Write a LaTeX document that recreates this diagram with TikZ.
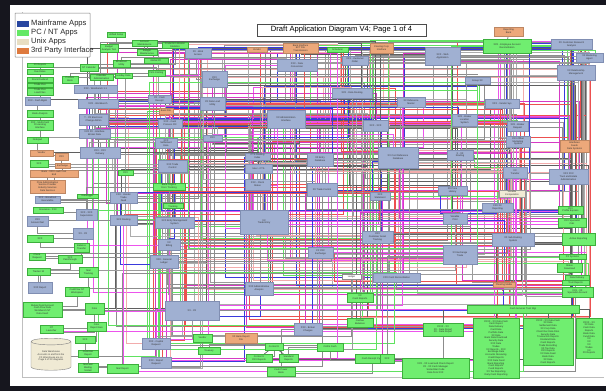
\documentclass[tikz,border=0pt]{standalone}
\usepackage{fontspec}
\setmainfont{Liberation Sans}
\usetikzlibrary{calc,shapes.geometric}
\pgfdeclarelayer{bg}
\pgfdeclarelayer{wires}
\pgfsetlayers{bg,wires,main}
\definecolor{framec}{RGB}{22,22,30}
\definecolor{mfc}{RGB}{160,176,210}
\definecolor{mfd}{RGB}{128,142,178}
\definecolor{pcc}{RGB}{112,238,112}
\definecolor{pcd}{RGB}{60,175,60}
\definecolor{uxc}{RGB}{240,234,212}
\definecolor{tpc}{RGB}{236,168,122}
\definecolor{lgblue}{RGB}{40,70,160}
\definecolor{lggreen}{RGB}{100,232,100}
\definecolor{lgbeige}{RGB}{232,222,194}
\definecolor{lgorange}{RGB}{222,122,62}
\definecolor{lc0}{RGB}{140,140,140}
\definecolor{lc1}{RGB}{155,155,155}
\definecolor{lc2}{RGB}{95,95,95}
\definecolor{lc3}{RGB}{236,80,80}
\definecolor{lc4}{RGB}{236,84,236}
\definecolor{lc5}{RGB}{96,226,96}
\definecolor{lc6}{RGB}{58,58,220}
\definecolor{lc7}{RGB}{242,172,172}
\definecolor{lc8}{RGB}{172,172,172}
\definecolor{lc9}{RGB}{214,58,196}
\tikzset{
  box/.style={rectangle, inner sep=0.3pt, outer sep=0pt, font=\fontsize{2.4}{2.8}\selectfont, align=center, text=black!80, line width=0.3pt},
  mf/.style={box, fill=mfc, draw=mfd},
  pc/.style={box, fill=pcc, draw=pcd},
  ux/.style={box, fill=uxc, draw=black!40},
  tp/.style={box, fill=tpc, draw=tpc!80!black},
  wb/.style={box, fill=white, draw=black!45},
  w0/.style={draw=lc0, line width=0.75pt},
  w1/.style={draw=lc1, line width=0.75pt},
  w2/.style={draw=lc2, line width=0.7pt},
  w3/.style={draw=lc3, line width=0.75pt},
  w4/.style={draw=lc4, line width=0.85pt},
  w5/.style={draw=lc5, line width=0.75pt},
  w6/.style={draw=lc6, line width=1pt},
  w7/.style={draw=lc7, line width=0.9pt},
  w8/.style={draw=lc8, line width=0.75pt},
  w9/.style={draw=lc9, line width=0.85pt},
  legtext/.style={anchor=west, inner sep=0pt, font=\fontsize{7.6}{8}\selectfont, text=black!85},
  swatch/.style={rectangle, inner sep=0pt, minimum width=12pt, minimum height=6.5pt},
}
\newcommand\mybox[7]{\node[#2, minimum width={(#5-#3)*1pt}, minimum height={(#6-#4)*1pt}] (#1) at ({(#3+#5)/2},{(#4+#6)/2}) {#7};}
\begin{document}
\begin{tikzpicture}[x=1pt,y=-1pt]
\useasboundingbox (0,0) rectangle (606,391);
\begin{pgfonlayer}{bg}
\fill[framec] (0,0) rectangle (606,391);
\fill[white] (10,5) rectangle (606,386);
\draw[black!25, line width=0.6pt] (22,12) -- (22,377) -- (604,377);
\end{pgfonlayer}

% legend and title
\node[draw=black!50, fill=white, minimum width=75pt, minimum height=44pt, line width=0.5pt, rounded corners=0.5pt] (legend) at (52.5,35) {};
\node[swatch, fill=lgblue] (s1) at (23,24) {};
\node[swatch, fill=lggreen] (s2) at (23,33) {};
\node[swatch, fill=lgbeige] (s3) at (23,42) {};
\node[swatch, fill=lgorange] (s4) at (23,51) {};
\node[legtext] (l1) at (31,24) {Mainframe Apps};
\node[legtext] (l2) at (31,33) {PC / NT Apps};
\node[legtext] (l3) at (31,42) {Unix Apps};
\node[legtext] (l4) at (31,51) {3rd Party Interface};
\node[draw=black!70, fill=white, line width=0.5pt, minimum width=169pt, minimum height=12pt, inner sep=0pt, font=\fontsize{7.6}{8}\selectfont] (title) at (341.5,30) {Draft Application Diagram V4; Page 1 of 4};

% central nodes
\mybox{n1}{mf}{185}{48}{211}{58}{XX - Web\\Access}
\mybox{n2}{tp}{247}{47}{267}{52}{Vendor}
\mybox{n3}{tp}{283}{43}{318}{53}{Bank Interface\\EFT File\\Transmission}
\mybox{n4}{pc}{327}{47}{348}{52}{Scheduler}
\mybox{n5}{tp}{370}{43}{393}{53}{Clearing Corp\\Interface}
\mybox{n6}{mf}{277}{59}{317}{71}{XXX - Data\\Conversion}
\mybox{n7}{mf}{342}{56}{368}{65}{XXX - Customer\\Order}
\mybox{n8}{mf}{202}{71}{227}{87}{XXX\\Exchange}
\mybox{n9}{mf}{200}{97}{225}{110}{XX Data Load\\Utility}
\mybox{n10}{mf}{332}{88}{372}{98}{XXX - Data Routing}
\mybox{n11}{mf}{267}{110}{305}{128}{XX Administration\\Interface}
\mybox{n12}{mf}{363}{120}{388}{131}{XXX - XXX}
\mybox{n13}{mf}{425}{47}{460}{65}{XXX - Web\\Application}
\mybox{n14}{mf}{465}{77}{490}{84}{Group XX}
\mybox{n15}{mf}{397}{97}{425}{107}{XX Reference\\Master}
\mybox{n16}{mf}{485}{99}{519}{108}{XXX - Vendor Sys}
\mybox{n17}{mf}{452}{114}{477}{126}{XXX - Broker\\Location\\System}
\mybox{n18}{mf}{507}{121}{528}{131}{XXX - Broker\\Request}
\mybox{n19}{mf}{506}{136}{530}{147}{XXX Offset\\Marketing\\System}
\mybox{n20}{tp}{560}{140}{589}{152}{Interfaces\\Feeds\\Data Systems}
\mybox{n21}{mf}{447}{150}{473}{160}{X - XX\\Routing}
\mybox{n22}{mf}{503}{167}{527}{178}{XX\\Transfer}
\mybox{n23}{mf}{549}{169}{588}{184}{XXX XXX\\Trust and Estate\\Administration}
\mybox{n24}{mf}{438}{186}{467}{195}{XX Price\\History}
\mybox{n25}{ux}{499}{190}{525}{197}{Variable\\Computation}
\mybox{n26}{mf}{482}{203}{513}{212}{XXX XX\\Reporting}
\mybox{n27}{mf}{443}{213}{467}{224}{Variable\\Print}
\mybox{n28}{mf}{492}{233}{534}{246}{XX Sub-Routing\\System}
\mybox{n29}{mf}{443}{245}{477}{264}{XX Exchange\\Trade}
\mybox{n30}{mf}{378}{147}{418}{168}{XX Cost Reference\\Database}
\mybox{n31}{mf}{307}{153}{333}{166}{XX Entry\\Database}
\mybox{n32}{mf}{203}{135}{222}{141}{XXX}
\mybox{n33}{mf}{245}{153}{270}{160}{CTS Routing\\Index}
\mybox{n34}{mf}{245}{164}{272}{173}{User - CTS}
\mybox{n35}{mf}{245}{179}{270}{190}{XXX - Client\\Status}
\mybox{n36}{mf}{307}{183}{337}{196}{XX Trade Control}
\mybox{n37}{mf}{370}{192}{390}{200}{XXX\\Statement}
\mybox{n38}{mf}{240}{210}{288}{234}{XX\\Trade Entry}
\mybox{n39}{mf}{362}{231}{393}{243}{XXX\\Customer Asset\\Tracking}
\mybox{n40}{mf}{308}{247}{333}{258}{XX XXX\\Exchange}
\mybox{n41}{mf}{245}{282}{273}{295}{XXX Administrative\\Analysis}
\mybox{n42}{mf}{165}{301}{219}{320}{XX - XX}
\mybox{n43}{mf}{155}{217}{194}{228}{XXX Entry Management\\System}
\mybox{n44}{mf}{158}{160}{187}{172}{XXX Trade\\Control}
\mybox{n45}{mf}{155}{138}{177}{148}{XXX\\Settlement\\Data}
\mybox{n46}{mf}{148}{95}{171}{103}{XX - Cash\\Receipt}
\mybox{n47}{tp}{159}{108}{173}{114}{Bank File}
\mybox{n48}{mf}{158}{119}{182}{128}{XXX - Cash\\Process Ctrl}
\mybox{n49}{mf}{110}{192}{137}{203}{XXX - Vendor\\Trade\\Feed}
\mybox{n50}{mf}{110}{215}{137}{225}{XXX Routing}
\mybox{n51}{mf}{158}{239}{180}{250}{XX\\Billing}
\mybox{n52}{mf}{150}{255}{178}{268}{XXX - General\\Ledger}
\mybox{n53}{mf}{373}{273}{420}{282}{XXX Cash Reconciliation}
\mybox{n54}{pc}{347}{293}{373}{302}{XX\\Cash Reports}
\mybox{n55}{mf}{294}{323}{322}{335}{XXX - Broker\\Charges}
\mybox{n56}{pc}{347}{318}{373}{327}{Cashier\\Balances}
\mybox{n57}{pc}{483}{39}{531}{53}{XXX - Employee Account\\Reconciliation}
\mybox{n58}{mf}{551}{39}{592}{49}{XX Customer Research\\Analysis}
\mybox{n59}{mf}{576}{53}{603}{62}{XX Marketing\\Agent}
\mybox{n60}{mf}{557}{65}{595}{80}{XX Relationship\\Management}
\mybox{n61}{mf}{80}{147}{120}{158}{XXX - XXX\\Delivery}
\mybox{n62}{mf}{74}{85}{117}{93}{XXX - Workbench 1.1}
\mybox{n63}{mf}{78}{99}{118}{108}{XXX - Workbench}
\mybox{n64}{mf}{79}{114}{108}{125}{T - XX Electronic\\Change Admin}
\mybox{n65}{mf}{79}{129}{110}{138}{XXX XX - Interface\\Broker Data}
\mybox{n66}{pc}{558}{206}{583}{214}{XXX\\Profile Express}
\mybox{n67}{pc}{558}{218}{586}{227}{XXX Specialist\\Calc}
\mybox{n68}{pc}{562}{233}{595}{245}{Active Reporting}
\mybox{n69}{mf}{142}{338}{170}{349}{XXX - Capital\\Request}
\mybox{n70}{mf}{141}{357}{171}{368}{XXX - Report\\Request}
\mybox{n71}{tp}{493}{282}{515}{287}{Clearing Media}
\mybox{n72}{pc}{562}{280}{589}{285}{Trust Reports}
\mybox{n73}{pc}{562}{287}{593}{297}{XXX - XX\\Specialist Account}

% peripheral nodes
\mybox{p1}{pc}{107}{32}{125}{37}{Unified Setup}
\mybox{p2}{pc}{100}{44}{118}{52}{Budget\\Analysis Tool}
\mybox{p3}{pc}{132}{40}{157}{46}{Account\\Maintenance}
\mybox{p4}{pc}{137}{49}{157}{55}{Budget\\Maintenance}
\mybox{p5}{pc}{162}{42}{188}{48}{Production Monitor\\Statistics}
\mybox{p6}{pc}{113}{60}{130}{67}{Broadcast\\Utility}
\mybox{p7}{pc}{144}{58}{168}{63}{Global PC}
\mybox{p8}{pc}{80}{64}{98}{71}{NT Calendar}
\mybox{p9}{pc}{90}{74}{113}{80}{Calendar\\Administration}
\mybox{p10}{pc}{115}{73}{132}{78}{Holiday Data}
\mybox{p11}{pc}{62}{76}{78}{83}{Position\\Book}
\mybox{p12}{pc}{148}{70}{165}{76}{Firm Costing}
\mybox{p13}{pc}{27}{63}{53}{67}{XX Reports}
\mybox{p14}{pc}{27}{69}{53}{74}{Due Dates}
\mybox{p15}{pc}{27}{77}{53}{82}{Stock Dividend}
\mybox{p16}{pc}{27}{83}{53}{87}{Trade Plus}
\mybox{p17}{pc}{27}{88}{53}{95}{Trade Plus\\Load Files}
\mybox{p18}{mf}{25}{97}{50}{105}{XXX - Cash Mgmt}
\mybox{p19}{pc}{27}{110}{53}{117}{Bank Analysis}
\mybox{p20}{pc}{27}{120}{53}{130}{XXX - Multi-Cash\\Processing\\Interface}
\mybox{p21}{pc}{27}{137}{48}{143}{Notepad}
\mybox{p22}{tp}{30}{150}{53}{156}{Vendor}
\mybox{p23}{tp}{55}{153}{68}{160}{XXX}
\mybox{p24}{pc}{30}{160}{48}{167}{XXX}
\mybox{p25}{tp}{55}{163}{70}{168}{Exchange}
\mybox{p26}{tp}{30}{170}{78}{177}{Bank - XXX Load Front\\End}
\mybox{p27}{tp}{30}{180}{65}{193}{Price Administration\\Service Provider\\Industry Services\\Data Services}
\mybox{p28}{pc}{118}{170}{133}{175}{XXX}
\mybox{p29}{mf}{35}{196}{60}{203}{XXX - Broadcast\\Executable}
\mybox{p30}{pc}{77}{194}{98}{198}{Datalogger}
\mybox{p31}{pc}{33}{207}{63}{213}{Insurance - XXX}
\mybox{p32}{mf}{76}{209}{97}{220}{XXX - XXX\\Supervision}
\mybox{p33}{pc}{153}{183}{185}{190}{Bank Original\\Docs Tracking}
\mybox{p34}{pc}{163}{203}{183}{208}{Bank\\Tracking}
\mybox{p35}{mf}{27}{216}{48}{226}{XXX\\Amount Net}
\mybox{p36}{mf}{73}{228}{93}{239}{XX - XX}
\mybox{p37}{pc}{27}{235}{53}{242}{XXX}
\mybox{p38}{pc}{74}{243}{89}{252}{Balance\\Transfer}
\mybox{p39}{pc}{29}{253}{45}{260}{Check\\Request}
\mybox{p40}{pc}{58}{255}{82}{263}{XXX\\Passthrough}
\mybox{p41}{pc}{27}{268}{50}{275}{Tracker 10}
\mybox{p42}{mf}{28}{282}{52}{293}{XXX Report}
\mybox{p43}{pc}{79}{267}{98}{277}{Mail\\Tracking}
\mybox{p44}{pc}{65}{287}{89}{296}{CashFlow NT\\Workspace}
\mybox{p45}{pc}{23}{302}{62}{317}{Mutual Fund Account\\Cash Flow Data\\Workbench NT\\Data Insert}
\mybox{p46}{pc}{85}{303}{104}{314}{Folio}
\mybox{p47}{pc}{40}{325}{63}{333}{NT\\Launcher}
\mybox{p48}{pc}{87}{322}{106}{331}{Folio\\Report Gen}
\mybox{p49}{pc}{75}{336}{95}{343}{XXX}
\mybox{p50}{pc}{78}{350}{98}{357}{Customer\\Report}
\mybox{p51}{pc}{78}{363}{98}{372}{Mail and\\Mailing\\Sorted}
\mybox{p52}{pc}{107}{364}{138}{373}{Mail Report}
\mybox{p53}{wb}{342}{274}{361}{279}{Ledger}
\mybox{p54}{tp}{225}{333}{257}{343}{XX Bank Report\\File}
\mybox{p55}{pc}{193}{334}{212}{342}{Vendor}
\mybox{p56}{pc}{198}{347}{220}{354}{Treasury}
\mybox{p57}{pc}{265}{343}{283}{350}{Control D}
\mybox{p58}{pc}{246}{354}{272}{362}{Control D\\XXX Reports}
\mybox{p59}{pc}{279}{354}{298}{362}{Standard\\Reports}
\mybox{p60}{pc}{317}{343}{343}{351}{CASS Cash}
\mybox{p61}{pc}{355}{354}{390}{363}{Cash Receipt Cycle}
\mybox{p62}{pc}{267}{367}{295}{376}{Cash Power\\Book}
\mybox{p63}{pc}{423}{323}{463}{336}{XXXX - XX\\XX - Data Report\\XX - Data Report}
\mybox{p64}{pc}{402}{358}{469}{378}{XXX - XX Load and Check Report\\XX - XX Cash Manager\\Sorted Bar Code\\Data from XXX}
\mybox{p65}{pc}{380}{354}{394}{363}{XXX}
\mybox{p66}{pc}{559}{254}{586}{259}{XX Systems}
\mybox{p67}{pc}{557}{263}{582}{272}{Status\\Download}
\mybox{p68}{pc}{565}{275}{589}{280}{Data Delivery}
\mybox{p69}{tp}{494}{27}{523}{36}{Reporting\\Bank}

% bottom right group
\mybox{bar}{pc}{467}{305}{579}{313}{Cash Services Trust Mgr}
\mybox{t1}{pc}{473}{318}{519}{378}{XXXX - XX Data Cash\\Cash Report\\Data Delivery\\Card Data\\Portfolio Data\\XX Data\\Bank Data Download\\Security Data\\XXX Data\\Trades\\XX Reports - XXX\\Exchange Data\\Accounts Receiving\\Credit Reports\\XXX Data Feed\\Bank Reporting\\Cash Reports\\Fund Reports\\XX Tax Reporting\\Daily Cash Reporting}
\mybox{t2}{pc}{523}{318}{573}{365}{XXXX - XX Data Cash\\XX Data\\Settlement Data\\XX Corp Data\\Client Rec Data Files\\Security Data\\Transaction Reports\\Dividend Data\\Cash Reports\\Trade Recording\\XX Tax Data\\XXX Reports\\XX Data Feed\\Bank Data\\XX Data\\Cash Reports}
\mybox{t3}{pc}{576}{318}{602}{358}{XXXX - XX\\XX Data\\Cash Data\\Reports\\Bank Data\\Fund Data\\XX\\XX\\XX\\Trades\\XX\\XX Reports}
\node[cylinder, shape border rotate=90, aspect=0.25, draw=black!50, fill=uxc, line width=0.4pt, minimum width=40pt, minimum height=32pt, inner sep=0pt, font=\fontsize{2.4}{2.8}\selectfont, align=center, text=black!75] (dw) at (51,356) {Data Warehouse\\Accounts in and from the\\XX Warehouse are on\\Page 3 of XX diagrams};

% wiring
\begin{pgfonlayer}{wires}
\pgfmathsetseed{4711}
\foreach \i in {1,...,420}{
  \pgfmathrandominteger{\ra}{1}{73}
  \pgfmathrandominteger{\rb}{1}{73}
  \pgfmathrandominteger{\rc}{0}{9}
  \pgfmathrandominteger{\dx}{-14}{14}
  \pgfmathrandominteger{\dy}{-6}{6}
  \pgfmathrandominteger{\rv}{0}{1}
  \ifnum\rv=0
    \draw[w\rc] ($(n\ra)+(\dx pt,0)$) |- ($(n\rb)+(0,\dy pt)$);
  \else
    \draw[w\rc] ($(n\ra)+(0,\dy pt)$) -| ($(n\rb)+(\dx pt,0)$);
  \fi
}
\foreach \i in {1,...,67}{
  \pgfmathtruncatemacro\j{\i+1}
  \pgfmathrandominteger{\rb}{1}{73}
  \pgfmathrandominteger{\rc}{0}{3}
  \pgfmathrandominteger{\dy}{-3}{3}
  \draw[w0] (p\i) |- ($(p\j)+(0,\dy pt)$);
  \pgfmathrandominteger{\rp}{0}{9}
  \ifnum\rp<4
    \ifnum\rc=3 \def\rc{4}\fi
    \draw[w\rc] ($(p\i)+(0,\dy pt)$) -| (n\rb);
  \fi
}
\draw[w2] (p69) -- (n57);
\draw[w2] (bar) -| (t1);
\draw[w2] (bar) -| (t2);
\draw[w2] ($(bar.east)+(-6pt,0)$) -| (t3);
\draw[w2] (bar.west) -| (p63);
\draw[w0] (bar) -| (n28);
\draw[w0] (bar) -| (n39);
\draw[w4] (bar) -| (n69);
\draw[w2] (p57) -- (p58);
\draw[w2] (p57) -- (p59);
\draw[w0] (dw) -| (p52);
\draw[w5] (p62) -| (bar);
\draw[w0] (p61) -| (p64);
\end{pgfonlayer}
\end{tikzpicture}
\end{document}
